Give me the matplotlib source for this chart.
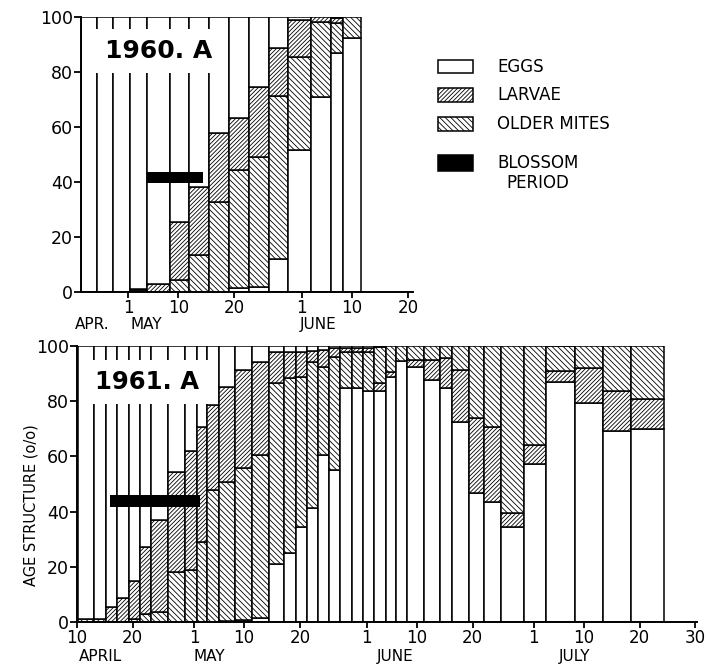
import matplotlib
matplotlib.use('Agg')
import matplotlib.pyplot as plt
from matplotlib.patches import Rectangle
import matplotlib.transforms as mtransforms

# ---------------- data ----------------
# x = day counted from 1 April (1 May = 31, 1 June = 62, 1 July = 92)
edges_1960 = [22.6, 25.5, 28.3, 31.4, 34.4, 38.5, 41.9, 45.5, 49.0, 52.6,
              56.2, 59.6, 63.7, 67.2, 69.4, 72.6]
eggs_1960 = [0, 0, 0, 0, 0, 0, 0, 0, 1.5, 2, 12, 51.6, 71, 87, 92.5]
older_1960 = [0, 0, 0, 0.6, 0, 4.4, 13.5, 32.8, 42.9, 47.2, 59.3, 34.0, 27.3, 11.0, 7.5]
larvae_1960 = [0, 0, 0, 0.6, 3, 21.2, 24.8, 25.0, 18.8, 25.2, 17.3, 13.4, 1.7, 1.5, 0]
larvae_below_1960 = [False] * 15
blossom_1960 = (34.4, 44.4)

edges_1961 = [10.2, 13.1, 15.2, 17.2, 19.3, 21.3, 23.3, 26.4, 29.4, 31.5,
              33.3, 35.5, 38.3, 41.4, 44.4, 47.2, 49.3, 51.3, 53.3, 55.3,
              57.3, 59.3, 61.3, 63.3, 65.4, 67.2, 69.2, 72.3, 75.2, 77.3,
              80.4, 83.1, 86.1, 90.2, 94.2, 99.4, 104.4, 109.5, 115.4]
eggs_1961 = [0, 0, 0, 0, 0, 0, 0, 0, 0, 0, 0, 0.5, 0.7, 1.3, 20.9, 24.9, 34.5, 41.2,
             60.5, 55.1, 84.7, 84.7, 83.7, 83.7, 88.8, 94.6, 92.5, 87.7, 84.7, 72.3,
             46.6, 43.6, 34.5, 57.1, 87.1, 79.2, 69.2, 69.9]
older_1961 = [1, 1, 0, 0, 1, 3, 3.7, 18.2, 18.8, 29, 47.8, 50.2, 55, 59.2, 65.6, 63.4,
              54.4, 53.1, 32, 41, 13.2, 13, 14, 13, 9.3, 5.4, 5.1, 5.1, 4.5, 8.7,
              26, 29.2, 60.6, 35.9, 9.1, 8.1, 16.3, 19.2]
larvae_1961 = [0, 0, 5.5, 8.6, 14, 24.3, 33.3, 36.3, 43.2, 41.8, 30.8, 34.3, 35.6, 33.8,
               11.4, 9.6, 9, 4, 6, 3, 1.5, 1.5, 1.5, 3, 1.9, 0, 2.4, 7.2, 10.8, 19,
               27.4, 27.2, 4.9, 7, 3.8, 12.7, 14.5, 10.9]
larvae_below_1961 = [False] * 23 + [True] * 15
blossom_1961 = (15.9, 32.0)

yticks = [0, 20, 40, 60, 80, 100]
xticks_1960 = [31, 40, 50, 62, 71, 81]
xlabels_1960 = ['1', '10', '20', '1', '10', '20']
months_1960 = [('APR.', 24.6), ('MAY', 34.2), ('JUNE', 64.9)]
xticks_1961 = [10, 20, 31, 40, 50, 62, 71, 81, 92, 101, 111, 121]
xlabels_1961 = ['10', '20', '1', '10', '20', '1', '10', '20', '1', '10', '20', '30']
months_1961 = [('APRIL', 14.3), ('MAY', 33.7), ('JUNE', 67.2), ('JULY', 99.4)]

legend_labels = ['EGGS', 'LARVAE', 'OLDER MITES', 'BLOSSOM\nPERIOD']

# ---------------- drawing ----------------
plt.rcParams['font.family'] = ['DejaVu Sans']
plt.rcParams['hatch.linewidth'] = 0.6
plt.rcParams['hatch.color'] = 'black'

W, H = 713, 666
fig = plt.figure(figsize=(W / 100, H / 100), dpi=100)
fig.patch.set_facecolor('white')

H_LARVAE = '////////'
H_OLDER = '\\\\\\\\\\\\'
LW = 1.1


def px_axes(l, t, r, b):
    return fig.add_axes([l / W, 1 - b / H, (r - l) / W, (b - t) / H])


def draw_bars(ax, edges, eggs, older, larvae, larvae_below):
    for i in range(len(eggs)):
        x0 = edges[i]
        w = edges[i + 1] - edges[i]
        segs = [(eggs[i], '')]
        if larvae_below[i]:
            segs += [(larvae[i], H_LARVAE), (older[i], H_OLDER)]
        else:
            segs += [(older[i], H_OLDER), (larvae[i], H_LARVAE)]
        bottom = 0
        for h, hatch in segs:
            if h > 0:
                ax.bar(x0, h, w, bottom, align='edge', color='white',
                       edgecolor='black', hatch=hatch, linewidth=LW, zorder=2)
                bottom += h
        if bottom < 100:
            ax.bar(x0, 100 - bottom, w, bottom, align='edge', color='white',
                   edgecolor='black', linewidth=LW, zorder=2)


def style_axes(ax, xlim, xticks, xlabels, months, month_y):
    ax.set_xlim(*xlim)
    ax.set_ylim(0, 100)
    for s in ['top', 'right']:
        ax.spines[s].set_visible(False)
    for s in ['left', 'bottom']:
        ax.spines[s].set_linewidth(1.4)
        ax.spines[s].set_zorder(8)
    ax.set_yticks(yticks)
    ax.set_yticklabels([str(v) for v in yticks], fontsize=12.5)
    ax.set_xticks(xticks)
    ax.set_xticklabels(xlabels, fontsize=12)
    ax.tick_params(axis='y', direction='out', length=5, width=1.3, pad=1)
    ax.tick_params(axis='x', direction='out', length=4, width=1.3, pad=1)
    trans = mtransforms.blended_transform_factory(ax.transData, ax.transAxes)
    for name, x in months:
        ax.text(x, month_y, name, transform=trans, ha='center', va='center',
                fontsize=11, clip_on=False)


# top panel: 1960
ax1 = px_axes(81, 17, 413, 292)
draw_bars(ax1, edges_1960, eggs_1960, older_1960, larvae_1960, larvae_below_1960)
style_axes(ax1, (22.6, 81.9), xticks_1960, xlabels_1960, months_1960, -0.118)
ax1.add_patch(Rectangle((blossom_1960[0], 41.8 - 2.0), blossom_1960[1] - blossom_1960[0], 4.0,
                        facecolor='black', edgecolor='none', zorder=6))
ax1.text(0.235, 0.877, '1960. A', transform=ax1.transAxes, ha='center', va='center',
         fontsize=18, fontweight='bold', zorder=7,
         bbox=dict(boxstyle='square,pad=0.4', facecolor='white', edgecolor='none'))

# bottom panel: 1961
ax2 = px_axes(77, 346, 697, 622)
draw_bars(ax2, edges_1961, eggs_1961, older_1961, larvae_1961, larvae_below_1961)
style_axes(ax2, (10.2, 121.3), xticks_1961, xlabels_1961, months_1961, -0.125)
ax2.add_patch(Rectangle((blossom_1961[0], 43.8 - 2.2), blossom_1961[1] - blossom_1961[0], 4.4,
                        facecolor='black', edgecolor='none', zorder=6))
ax2.text(0.113, 0.87, '1961. A', transform=ax2.transAxes, ha='center', va='center',
         fontsize=17.5, fontweight='bold', zorder=7,
         bbox=dict(boxstyle='square,pad=0.4', facecolor='white', edgecolor='none'))

fig.text(31 / W, 1 - 505 / H, 'AGE STRUCTURE (o/o)', rotation=90, ha='center', va='center',
         fontsize=10.5)

# legend (drawn in figure pixels)
box_specs = [('white', '', 60, 13), ('white', H_LARVAE, 88, 14),
             ('white', H_OLDER, 117, 14), ('black', '', 155, 16)]
for (fc, hatch, top, hgt), label in zip(box_specs, legend_labels):
    fig.add_artist(Rectangle((438 / W, 1 - (top + hgt) / H), 35 / W, hgt / H,
                             transform=fig.transFigure, facecolor=fc, edgecolor='black',
                             hatch=hatch, linewidth=1.1))
    if '\n' in label:
        first, second = label.split('\n')
        fig.text(497 / W, 1 - (top + hgt / 2) / H, first, ha='left', va='center', fontsize=12)
        fig.text(538 / W, 1 - (top + hgt / 2 + 20) / H, second, ha='center', va='center',
                 fontsize=12)
    else:
        fig.text(497 / W, 1 - (top + hgt / 2) / H, label, ha='left', va='center', fontsize=12)

fig.savefig('out.png', dpi=100, facecolor='white')
